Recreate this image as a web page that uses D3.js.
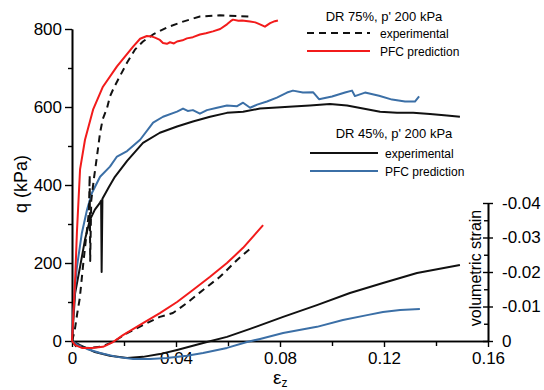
<!DOCTYPE html>
<html>
<head>
<meta charset="utf-8">
<script src="https://cdn.jsdelivr.net/npm/d3@7"></script>
<style>
  html, body { margin: 0; padding: 0; background: #fff; }
  svg { display: block; font-family: "Liberation Sans", Arial, sans-serif; }
</style>
</head>
<body>
<svg id="chart" width="544" height="390"></svg>
<script>
// Axial strain ticks and labels
const strainTicks = [0, 0.04, 0.08, 0.12, 0.16];
const strainMinor = [0.02, 0.06, 0.10, 0.14];
const strainLabels = ["0", "0.04", "0.08", "0.12", "0.16"];
// Deviator stress ticks (kPa)
const qTicks = [0, 200, 400, 600, 800];
const qMinor = [100, 300, 500, 700];
// Volumetric strain ticks (dilation upward)
const volTicks = [0, -0.01, -0.02, -0.03, -0.04];
const volMinor = [-0.005, -0.015, -0.025, -0.035];
const volLabels = ["0", "-0.01", "-0.02", "-0.03", "-0.04"];

// DR 75% experimental: q vs axial strain
const dr75ExpQ = [
  [0, 0], [0.001, 25], [0.002, 70], [0.003, 110], [0.0042, 190], [0.0055, 270],
  [0.0065, 330], [0.0068, 425], [0.0070, 205], [0.0074, 360], [0.0085, 420],
  [0.0096, 473], [0.0108, 534], [0.0118, 568], [0.0135, 598], [0.0146, 627],
  [0.0158, 645], [0.0177, 670], [0.0212, 714], [0.0242, 747], [0.0273, 768],
  [0.0312, 786], [0.0365, 804], [0.0427, 819], [0.0492, 832], [0.0569, 835],
  [0.0635, 833], [0.0685, 832]
];
// DR 75% PFC prediction: q vs axial strain
const dr75PfcQ = [
  [0, 0], [0.0004, 50], [0.0012, 157], [0.0019, 280], [0.0031, 440], [0.005, 516],
  [0.0081, 593], [0.0119, 652], [0.0173, 704], [0.0235, 755], [0.0262, 775],
  [0.0288, 782], [0.0305, 781], [0.0319, 778], [0.0338, 772], [0.0350, 764],
  [0.0365, 762], [0.0377, 766], [0.0392, 763], [0.0404, 768], [0.0425, 771],
  [0.0442, 776], [0.0465, 779], [0.0492, 786], [0.0515, 789], [0.0542, 794],
  [0.0570, 800], [0.0596, 812], [0.0610, 820], [0.0619, 824], [0.0640, 821],
  [0.0654, 822], [0.0685, 819], [0.0705, 817], [0.0723, 812], [0.0742, 806],
  [0.0762, 815], [0.0780, 820], [0.0792, 822]
];
// DR 45% experimental: q vs axial strain
const dr45ExpQ = [
  [0, 0], [0.0012, 123], [0.0031, 190], [0.005, 260], [0.0069, 311], [0.0088, 337],
  [0.0108, 355], [0.0112, 360], [0.0114, 177], [0.0117, 365], [0.0142, 395],
  [0.0165, 421], [0.0212, 462], [0.0273, 508], [0.0338, 534], [0.0404, 550],
  [0.0465, 563], [0.0531, 575], [0.0596, 585], [0.0658, 588], [0.0723, 596],
  [0.0788, 599], [0.085, 601], [0.0915, 604], [0.0992, 608], [0.1058, 604],
  [0.1119, 596], [0.1185, 588], [0.125, 585], [0.1312, 585], [0.1377, 582],
  [0.1442, 578], [0.1492, 575]
];
// DR 45% PFC prediction: q vs axial strain
const dr45PfcQ = [
  [0, 0], [0.0004, 60], [0.0012, 140], [0.0019, 190], [0.0038, 277], [0.0058, 337],
  [0.0077, 380], [0.0108, 421], [0.0146, 447], [0.0173, 473], [0.0212, 487],
  [0.0262, 516], [0.0312, 560], [0.035, 575], [0.0404, 588], [0.0427, 596],
  [0.0445, 590], [0.0465, 592], [0.0492, 583], [0.0519, 592], [0.0558, 598],
  [0.0596, 604], [0.0635, 602], [0.0658, 611], [0.0685, 598], [0.0712, 606],
  [0.075, 614], [0.0788, 624], [0.0827, 637], [0.085, 642], [0.0888, 637],
  [0.0927, 638], [0.095, 620], [0.1, 627], [0.105, 637], [0.1077, 642],
  [0.1088, 628], [0.1127, 637], [0.1181, 629], [0.1231, 619], [0.1281, 614],
  [0.1319, 614], [0.1335, 627]
];

// Volumetric strain vs axial strain (negative = dilation)
const dr75ExpVol = [
  [0, 0], [0.0015, 0.0015], [0.0058, 0.002], [0.0108, 0.0017], [0.0158, 0.0003],
  [0.0212, -0.0023], [0.0273, -0.0046], [0.0338, -0.007], [0.0388, -0.0081],
  [0.0442, -0.011], [0.0504, -0.0148], [0.0569, -0.0186], [0.0635, -0.0235],
  [0.0692, -0.0272]
];
const dr75PfcVol = [
  [0, 0], [0.0012, 0.0012], [0.0038, 0.002], [0.0077, 0.002], [0.0119, 0.0017],
  [0.0158, 0.0003], [0.0196, -0.0017], [0.0273, -0.0052], [0.0338, -0.0081],
  [0.0404, -0.0113], [0.0465, -0.0148], [0.0531, -0.0186], [0.0596, -0.0226],
  [0.0658, -0.027], [0.0735, -0.0336]
];
const dr45ExpVol = [
  [0, 0], [0.0031, 0.0012], [0.0088, 0.0032], [0.0146, 0.0043], [0.0212, 0.0049],
  [0.0273, 0.0046], [0.0338, 0.0038], [0.0404, 0.0026], [0.0465, 0.0014],
  [0.0519, 0.0003], [0.0596, -0.0012], [0.0685, -0.0035], [0.0812, -0.007],
  [0.0942, -0.0104], [0.1069, -0.0139], [0.1196, -0.0168], [0.1327, -0.0197],
  [0.1492, -0.022]
];
const dr45PfcVol = [
  [0, 0], [0.0023, 0.0012], [0.0058, 0.0023], [0.0108, 0.0035], [0.0173, 0.0046],
  [0.0235, 0.0052], [0.03, 0.0052], [0.0365, 0.0049], [0.0442, 0.0043],
  [0.0504, 0.0035], [0.0596, 0.002], [0.0673, 0.0003], [0.0723, -0.0006],
  [0.0812, -0.0023], [0.0942, -0.0041], [0.1042, -0.0061], [0.1135, -0.0075],
  [0.1196, -0.0084], [0.1262, -0.009], [0.1338, -0.0093]
];

const RED = "#f21b1b";
const BLUE = "#3b6fa6";
const BLACK = "#111";

const svg = d3.select("#chart");

const x = d3.scaleLinear().domain([0, 0.16]).range([72, 488]);
const y = d3.scaleLinear().domain([0, 800]).range([341, 29]);
const yv = d3.scaleLinear().domain([0, -0.04]).range([341, 203]);

const axisStyle = g => {
  g.selectAll("path.domain").attr("stroke", "#000").attr("stroke-width", 1.6);
  g.selectAll(".tick line").attr("stroke", "#000").attr("stroke-width", 1.4);
  g.selectAll("text").attr("fill", "#000").attr("font-size", 17)
    .attr("font-family", "Liberation Sans, Arial, sans-serif");
};

// Left axis: deviator stress
svg.append("g").attr("transform", `translate(${x(0)},0)`)
  .call(d3.axisLeft(y).tickValues(qMinor).tickSize(4).tickSizeOuter(0).tickFormat(""))
  .call(axisStyle);
svg.append("g").attr("transform", `translate(${x(0)},0)`)
  .call(d3.axisLeft(y).tickValues(qTicks).tickSize(7).tickSizeOuter(0).tickPadding(3).tickFormat(d3.format("d")))
  .call(axisStyle);

// Bottom axis: axial strain
svg.append("g").attr("transform", `translate(0,${y(0)})`)
  .call(d3.axisBottom(x).tickValues(strainMinor).tickSize(5).tickSizeOuter(0).tickFormat(""))
  .call(axisStyle);
svg.append("g").attr("transform", `translate(0,${y(0)})`)
  .call(d3.axisBottom(x).tickValues(strainTicks).tickSize(6).tickSizeOuter(0).tickPadding(5)
    .tickFormat((d, i) => strainLabels[i]))
  .call(axisStyle);

// Right axis: volumetric strain
svg.append("g").attr("transform", `translate(${x(0.16)},0)`)
  .call(d3.axisLeft(yv).tickValues(volMinor).tickSize(4).tickSizeOuter(0).tickFormat(""))
  .call(axisStyle);
const rAxis = svg.append("g").attr("transform", `translate(${x(0.16)},0)`)
  .call(d3.axisRight(yv).tickValues(volTicks).tickSize(5).tickSizeOuter(0).tickPadding(9)
    .tickFormat((d, i) => volLabels[i]))
  .call(axisStyle);
rAxis.selectAll(".tick line").attr("x1", -5);

// Axis titles
svg.append("text")
  .attr("transform", `translate(27,${184}) rotate(-90)`)
  .attr("text-anchor", "middle").attr("font-size", 18).text("q (kPa)");
svg.append("text")
  .attr("transform", `translate(481,${268}) rotate(-90)`)
  .attr("text-anchor", "middle").attr("font-size", 16).text("volumetric strain");
const xt = svg.append("text").attr("x", 273).attr("y", 384).attr("font-size", 19);
xt.append("tspan").text("ε");
xt.append("tspan").attr("font-size", 12).attr("dy", 3).text("z");

// Curves
const lineQ = d3.line().x(d => x(d[0])).y(d => y(d[1]));
const lineV = d3.line().x(d => x(d[0])).y(d => yv(d[1]));

const curves = [
  { data: dr45ExpVol, gen: lineV, color: BLACK, dash: null },
  { data: dr45PfcVol, gen: lineV, color: BLUE, dash: null },
  { data: dr75ExpVol, gen: lineV, color: BLACK, dash: "7,5" },
  { data: dr75PfcVol, gen: lineV, color: RED, dash: null },
  { data: dr45ExpQ, gen: lineQ, color: BLACK, dash: null },
  { data: dr45PfcQ, gen: lineQ, color: BLUE, dash: null },
  { data: dr75ExpQ, gen: lineQ, color: BLACK, dash: "7,5" },
  { data: dr75PfcQ, gen: lineQ, color: RED, dash: null }
];
svg.append("g").selectAll("path").data(curves).join("path")
  .attr("d", c => c.gen(c.data))
  .attr("fill", "none")
  .attr("stroke", c => c.color)
  .attr("stroke-width", 2)
  .attr("stroke-linejoin", "round")
  .attr("stroke-dasharray", c => c.dash);

// Legends
function legend(title, tx, ty, lx0, lx1, textX, items) {
  svg.append("text").attr("x", tx).attr("y", ty).attr("text-anchor", "middle")
    .attr("font-size", 13).text(title);
  items.forEach(it => {
    svg.append("line").attr("x1", lx0).attr("x2", lx1).attr("y1", it.y).attr("y2", it.y)
      .attr("stroke", it.color).attr("stroke-width", 2)
      .attr("stroke-dasharray", it.dash);
    svg.append("text").attr("x", textX).attr("y", it.y + 4.5).attr("font-size", 12).text(it.label);
  });
}
legend("DR 75%, p' 200 kPa", 384, 21, 307, 370, 380, [
  { y: 33, color: BLACK, dash: "7,5", label: "experimental" },
  { y: 51, color: RED, dash: null, label: "PFC prediction" }
]);
legend("DR 45%, p' 200 kPa", 394, 138, 310, 378, 385, [
  { y: 153, color: BLACK, dash: null, label: "experimental" },
  { y: 171, color: BLUE, dash: null, label: "PFC prediction" }
]);
</script>
</body>
</html>
